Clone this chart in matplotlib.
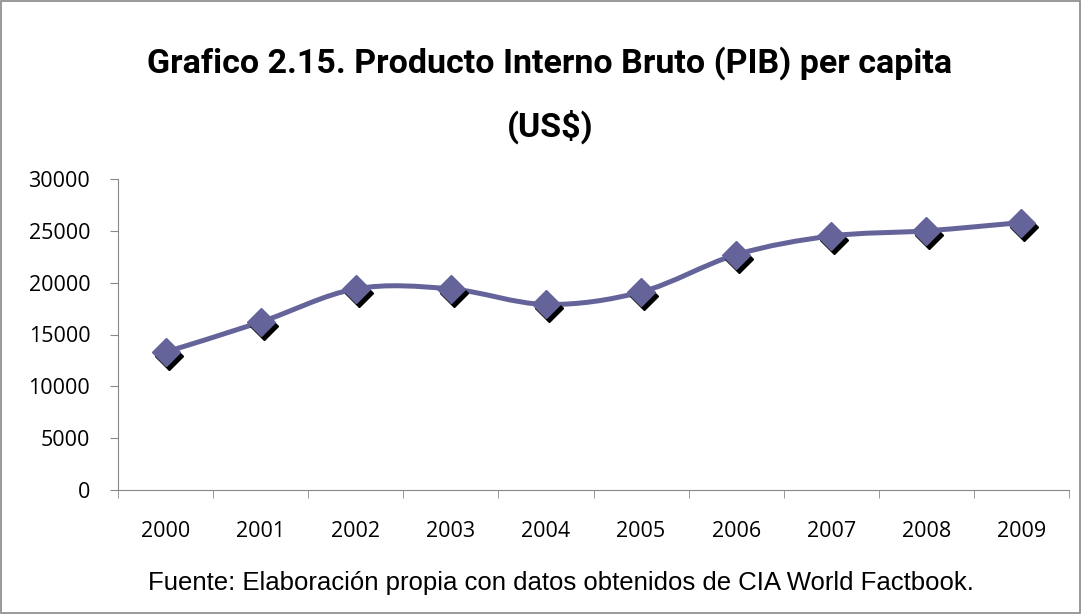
import matplotlib
matplotlib.use("Agg")
import matplotlib.pyplot as plt
import matplotlib.transforms as mtransforms
from matplotlib.path import Path
from matplotlib.patches import PathPatch, Rectangle
from matplotlib import font_manager

years = ["2000", "2001", "2002", "2003", "2004", "2005", "2006", "2007", "2008", "2009"]
pib_per_capita = [13300, 16200, 19400, 19400, 17900, 19100, 22700, 24500, 25000, 25800]
y_ticks = [0, 5000, 10000, 15000, 20000, 25000, 30000]

title = "Grafico 2.15. Producto Interno Bruto (PIB) per capita\n(US$)"
source = "Fuente: Elaboración propia con datos obtenidos de CIA World Factbook."

line_color = "#65649A"


def pick_font(names):
    installed = {f.name for f in font_manager.fontManager.ttflist}
    for n in names:
        if n in installed:
            return n
    return "DejaVu Sans"


title_font = pick_font(["Liberation Sans Narrow", "DejaVu Sans Condensed", "Roboto", "Liberation Sans"])
tick_font = pick_font(["Open Sans", "Liberation Sans"])
text_font = pick_font(["Liberation Sans", "Arial"])


def smooth_path(xs, ys):
    # bezier curve through the points, like Excel's smoothed line
    verts = [(xs[0], ys[0])]
    codes = [Path.MOVETO]
    n = len(xs)
    for i in range(n - 1):
        x0, y0 = xs[max(i - 1, 0)], ys[max(i - 1, 0)]
        x1, y1 = xs[i], ys[i]
        x2, y2 = xs[i + 1], ys[i + 1]
        x3, y3 = xs[min(i + 2, n - 1)], ys[min(i + 2, n - 1)]
        c1 = (x1 + (x2 - x0) / 6, y1 + (y2 - y0) / 6)
        c2 = (x2 - (x3 - x1) / 6, y2 - (y3 - y1) / 6)
        verts += [c1, c2, (x2, y2)]
        codes += [Path.CURVE4] * 3
    return Path(verts, codes)


fig = plt.figure(figsize=(10.81, 6.14), dpi=100)
ax = fig.add_axes([118 / 1081, 1 - 490 / 614, (1069 - 118) / 1081, (490 - 179) / 614])

x = list(range(len(years)))
ax.add_patch(PathPatch(smooth_path(x, pib_per_capita), facecolor="none",
                       edgecolor=line_color, lw=3.6, capstyle="round", zorder=2))

shadow = ax.transData + mtransforms.ScaledTranslation(3 / 100, -4 / 100, fig.dpi_scale_trans)
ax.plot(x, pib_per_capita, linestyle="none", marker="D", markersize=14,
        color="black", transform=shadow, zorder=3)
ax.plot(x, pib_per_capita, linestyle="none", marker="D", markersize=14,
        color=line_color, zorder=4)

ax.set_xlim(-0.5, len(years) - 0.5)
ax.set_ylim(0, 30000)
ax.set_yticks(y_ticks)
ax.set_yticklabels([str(v) for v in y_ticks], fontsize=15.5, family=tick_font)
ax.set_xticks(x)
ax.set_xticklabels(years, fontsize=15.5, family=tick_font)
ax.set_xticks([i - 0.5 for i in range(len(years) + 1)], minor=True)

for s in ["top", "right"]:
    ax.spines[s].set_visible(False)
ax.spines["left"].set_color("#888888")
ax.spines["bottom"].set_color("#888888")
ax.tick_params(axis="y", color="#888888", length=6, pad=14)
ax.tick_params(axis="x", which="major", length=0, pad=22)
ax.tick_params(axis="x", which="minor", color="#888888", length=6)

fig.text(550 / 1081, 1 - 95 / 614, title, ha="center", va="center", fontsize=24.5,
         fontweight="bold", family=title_font, linespacing=2.1)
fig.text(561 / 1081, 1 - 583 / 614, source, ha="center", va="center", fontsize=18.5,
         family=text_font)

fig.patches.append(Rectangle((0.001, 0.001), 0.998, 0.997, transform=fig.transFigure,
                             fill=False, edgecolor="#888888", lw=1.2))

fig.savefig("out.png", dpi=100)
